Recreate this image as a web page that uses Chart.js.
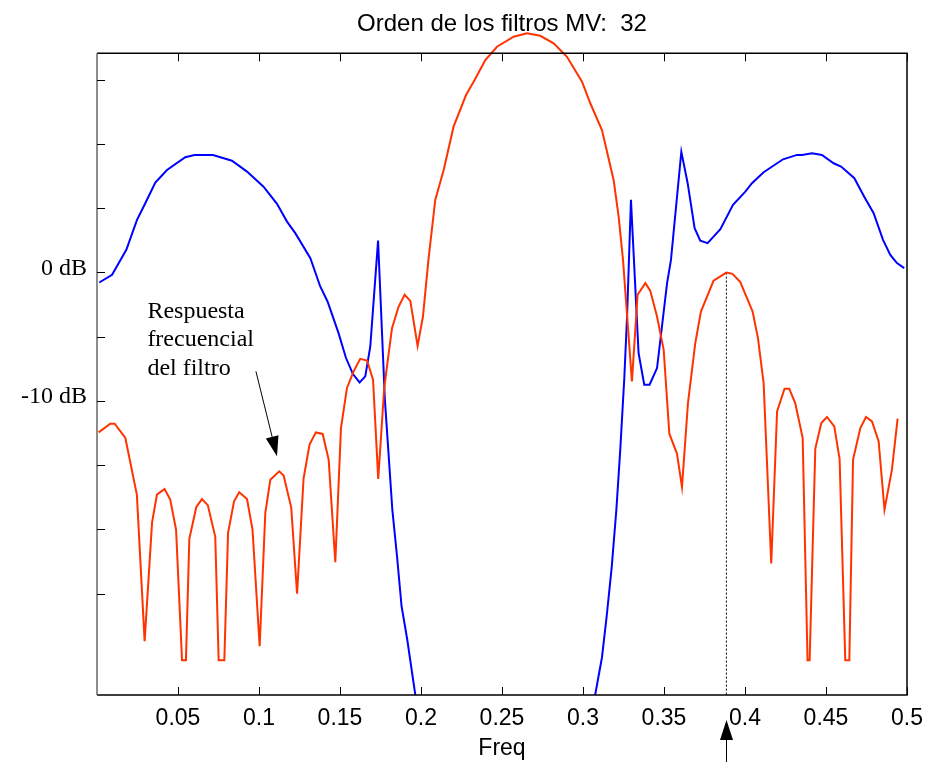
<!DOCTYPE html>
<html>
<head>
<meta charset="utf-8">
<script src="https://cdn.jsdelivr.net/npm/chart.js@4"></script>
<style>
  body { margin: 0; background: #fff; }
  canvas { display: block; }
</style>
</head>
<body>
<canvas id="chart" width="929" height="762"></canvas>
<script>
// filter response (red), freq / dB
const redFreq = [0.001, 0.0082, 0.0109, 0.0175, 0.0246, 0.0294, 0.0340, 0.0370, 0.0417, 0.0452,
  0.0488, 0.0525, 0.0549, 0.0570, 0.0613, 0.0648, 0.0684, 0.0730, 0.0751, 0.0786,
  0.0809, 0.0846, 0.0878, 0.0926, 0.0960, 0.1004, 0.1039, 0.1070, 0.1125, 0.1152,
  0.1199, 0.1235, 0.1275, 0.1312, 0.1351, 0.1393, 0.1430, 0.1471, 0.1506, 0.1543,
  0.1584, 0.1625, 0.1667, 0.1704, 0.1736, 0.1773, 0.1794, 0.1821, 0.1862, 0.1899,
  0.1934, 0.1979, 0.2012, 0.2047, 0.2088, 0.2140, 0.2201, 0.2278, 0.2325, 0.2397,
  0.2469, 0.2572, 0.2654, 0.2736, 0.2819, 0.2901, 0.2994, 0.3045, 0.3117, 0.3189,
  0.3220, 0.3247, 0.3302, 0.3337, 0.3385, 0.3415, 0.3457, 0.3498, 0.3533, 0.3580,
  0.3611, 0.3648, 0.3693, 0.3728, 0.3806, 0.3885, 0.3923, 0.3971, 0.4047, 0.4080,
  0.4115, 0.4162, 0.4198, 0.4244, 0.4273, 0.4310, 0.4356, 0.4386, 0.4399, 0.4434,
  0.4471, 0.4506, 0.4551, 0.4584, 0.4619, 0.4644, 0.4667, 0.4712, 0.4747, 0.4784,
  0.4825, 0.4861, 0.4907, 0.4942];
const redDb = [-12.46, -11.78, -11.78, -12.89, -17.30, -28.71, -19.46, -17.30, -16.86, -17.69,
  -20.02, -30.19, -30.19, -20.75, -18.26, -17.65, -18.12, -20.59, -30.19, -30.19,
  -20.28, -17.82, -17.12, -17.64, -20.02, -29.10, -18.72, -16.14, -15.49, -15.82,
  -18.31, -25.02, -16.06, -13.41, -12.46, -12.58, -14.58, -22.57, -12.12, -9.00,
  -7.71, -6.73, -6.86, -8.36, -16.08, -9.00, -6.94, -4.34, -2.66, -1.75,
  -2.22, -5.72, -3.44, 1.10, 5.64, 7.97, 11.34, 13.80, 14.84, 16.52,
  17.56, 18.34, 18.60, 18.41, 17.82, 16.78, 14.84, 13.16, 11.08, 7.19,
  4.34, 0.97, -8.49, -1.75, -0.84, -1.42, -3.44, -6.03, -12.56, -14.11,
  -16.70, -10.17, -5.51, -3.05, -0.64, -0.02, -0.12, -0.76, -3.05, -5.12,
  -8.62, -22.67, -10.82, -9.06, -9.06, -10.17, -12.89, -30.19, -30.19, -13.72,
  -11.73, -11.26, -11.99, -14.53, -30.19, -30.19, -14.58, -12.12, -11.26, -11.60,
  -13.16, -18.47, -15.36, -11.39];

// MV spectrum (blue); null = off the bottom of the axes
const blueFreq = [0.0014, 0.0093, 0.0181, 0.0247, 0.0298, 0.0360, 0.0432, 0.0545, 0.0602, 0.0716,
  0.0833, 0.0926, 0.1028, 0.1111, 0.1173, 0.1224, 0.1317, 0.1378, 0.1423, 0.1491,
  0.1537, 0.1580, 0.1621, 0.1656, 0.1687, 0.1735, 0.1777, 0.1823, 0.1852, 0.1880,
  0.1915, 0.1965, 0.25, 0.3075, 0.3117, 0.3146, 0.3177, 0.3206, 0.3230, 0.3255,
  0.3272, 0.3296, 0.3343, 0.3378, 0.3411, 0.3457, 0.3519, 0.3543, 0.3607, 0.3646,
  0.3689, 0.3724, 0.3769, 0.3848, 0.3926, 0.4002, 0.4043, 0.4115, 0.4235, 0.4321,
  0.4352, 0.4414, 0.4475, 0.4547, 0.4593, 0.4675, 0.4736, 0.4794, 0.4852, 0.4897,
  0.4938, 0.4983];
const blueDb = [-0.79, -0.19, 1.75, 4.08, 5.38, 6.98, 7.97, 8.96, 9.14, 9.14,
  8.69, 7.84, 6.67, 5.33, 3.95, 3.05, 1.10, -1.10, -2.27, -4.73,
  -6.67, -7.92, -8.57, -8.10, -5.77, 2.47, -9.91, -18.47, -22.10, -25.99,
  -28.58, -32.9, null, -32.9, -29.98, -26.79, -22.98, -18.47, -13.80, -8.23,
  -3.44, 5.64, -6.28, -8.75, -8.75, -7.45, -0.84, 0.97, 9.39, 6.94,
  3.44, 2.47, 2.27, 3.36, 5.25, 6.28, 6.94, 7.79, 8.80, 9.14,
  9.14, 9.27, 9.14, 8.49, 8.23, 7.33, 5.89, 4.60, 2.53, 1.36,
  0.72, 0.33];

const xTickVals = [0.05, 0.1, 0.15, 0.2, 0.25, 0.3, 0.35, 0.4, 0.45, 0.5];
const yTickVals = [15, 10, 5, 0, -5, -10, -15, -20, -25];
const yLabels = { "0": "0 dB", "-10": "-10 dB" };

// marked peak and the annotation
const markFreq = 0.3885;
const markDb = -0.02;
const noteLines = ["Respuesta", "frecuencial", "del filtro"];
const noteAt = [0.0311, -3.55];
const noteArrow = [0.0981, -7.71, 0.1111, -14.32];

const toXY = (xs, ys) => xs.map((x, i) => ({ x: x, y: ys[i] }));

function arrow(ctx, x1, y1, x2, y2) {
  const a = Math.atan2(y2 - y1, x2 - x1);
  const len = 20, half = 6.5;
  const bx = x2 - len * Math.cos(a), by = y2 - len * Math.sin(a);
  ctx.beginPath();
  ctx.moveTo(x1, y1);
  ctx.lineTo(bx, by);
  ctx.stroke();
  ctx.beginPath();
  ctx.moveTo(x2, y2);
  ctx.lineTo(bx + half * Math.sin(a), by - half * Math.cos(a));
  ctx.lineTo(bx - half * Math.sin(a), by + half * Math.cos(a));
  ctx.closePath();
  ctx.fill();
}

const boxPlugin = {
  id: "box",
  afterDatasetsDraw(chart) {
    const { ctx, chartArea: a } = chart;
    const xs = chart.scales.x, ys = chart.scales.y;
    ctx.save();
    ctx.lineWidth = 1.5;
    ctx.strokeStyle = "#000";
    ctx.beginPath();
    ctx.moveTo(a.left, a.top); ctx.lineTo(a.right, a.top);
    ctx.lineTo(a.right, a.bottom); ctx.lineTo(a.left, a.bottom);
    ctx.stroke();
    ctx.strokeStyle = "#666";
    ctx.beginPath();
    ctx.moveTo(a.left, a.top); ctx.lineTo(a.left, a.bottom);
    ctx.stroke();
    // inward ticks
    ctx.strokeStyle = "#000";
    ctx.lineWidth = 1;
    ctx.beginPath();
    xTickVals.forEach(v => {
      const px = Math.round(xs.getPixelForValue(v)) + 0.5;
      ctx.moveTo(px, a.top); ctx.lineTo(px, a.top + 8);
      ctx.moveTo(px, a.bottom); ctx.lineTo(px, a.bottom - 8);
    });
    yTickVals.forEach(v => {
      const py = Math.round(ys.getPixelForValue(v)) + 0.5;
      ctx.moveTo(a.left, py); ctx.lineTo(a.left + 8, py);
    });
    ctx.stroke();

    // text note + arrows
    ctx.fillStyle = "#000";
    ctx.font = '24px "Liberation Serif", "Times New Roman", serif';
    ctx.textBaseline = "alphabetic";
    ctx.textAlign = "left";
    const tx = xs.getPixelForValue(noteAt[0]);
    const ty = ys.getPixelForValue(noteAt[1]);
    noteLines.forEach((t, i) => ctx.fillText(t, tx, ty + i * 28.3));
    ctx.lineWidth = 1;
    arrow(ctx, xs.getPixelForValue(noteArrow[0]), ys.getPixelForValue(noteArrow[1]),
      xs.getPixelForValue(noteArrow[2]), ys.getPixelForValue(noteArrow[3]));
    const mx = Math.round(xs.getPixelForValue(markFreq)) + 0.5;
    arrow(ctx, mx, chart.height, mx, a.bottom + 25);
    ctx.restore();
  }
};

const data = {
  datasets: [
    {
      label: "Respuesta",
      data: toXY(redFreq, redDb),
      borderColor: "rgb(255, 51, 0)",
      borderWidth: 2,
      pointRadius: 0,
      clip: false,
    },
    {
      label: "Marca",
      data: toXY([markFreq, markFreq], [markDb, -32.9]),
      borderColor: "#000",
      borderWidth: 1,
      borderDash: [2, 2],
      pointRadius: 0,
    },
    {
      label: "MV",
      data: toXY(blueFreq, blueDb),
      borderColor: "rgb(0, 0, 255)",
      borderWidth: 2,
      pointRadius: 0,
    },
  ],
};

const config = {
  type: "line",
  data: data,
  options: {
    responsive: false,
    animation: false,
    layout: { padding: { left: 0, right: 22, top: 0, bottom: 0 } },
    plugins: {
      legend: { display: false },
      tooltip: { enabled: false },
      title: {
        display: true,
        text: "Orden de los filtros MV:  32",
        color: "#000",
        fullSize: false,
        font: { family: '"Liberation Sans", Arial, sans-serif', size: 24, weight: "normal" },
        padding: { top: 10, bottom: 14.5 },
      },
    },
    scales: {
      x: {
        type: "linear",
        min: 0,
        max: 0.5,
        afterBuildTicks: s => { s.ticks = xTickVals.map(v => ({ value: v })); },
        afterFit: s => { s.height = 67; s.paddingLeft = 0; s.paddingRight = 0; },
        grid: { display: false, drawTicks: false },
        border: { display: false },
        ticks: {
          color: "#000",
          padding: 10,
          maxRotation: 0,
          autoSkip: false,
          font: { family: '"Liberation Sans", Arial, sans-serif', size: 23 },
          callback: v => String(Math.round(v * 100) / 100),
        },
        title: {
          display: true,
          text: "Freq",
          color: "#000",
          padding: 0,
          font: { family: '"Liberation Sans", Arial, sans-serif', size: 23 },
        },
      },
      y: {
        min: -32.9,
        max: 17.05,
        afterBuildTicks: s => { s.ticks = yTickVals.map(v => ({ value: v })); },
        afterFit: s => { s.width = 97; s.paddingTop = 0; s.paddingBottom = 0; },
        grid: { display: false, drawTicks: false },
        border: { display: false },
        ticks: {
          color: "#000",
          padding: 10,
          labelOffset: -4,
          autoSkip: false,
          font: { family: '"Liberation Serif", "Times New Roman", serif', size: 24 },
          callback: v => yLabels[String(v)] || "",
        },
      },
    },
  },
  plugins: [boxPlugin],
};

const ctx = document.getElementById("chart").getContext("2d");
const freqChart = new Chart(ctx, config);
</script>
</body>
</html>
